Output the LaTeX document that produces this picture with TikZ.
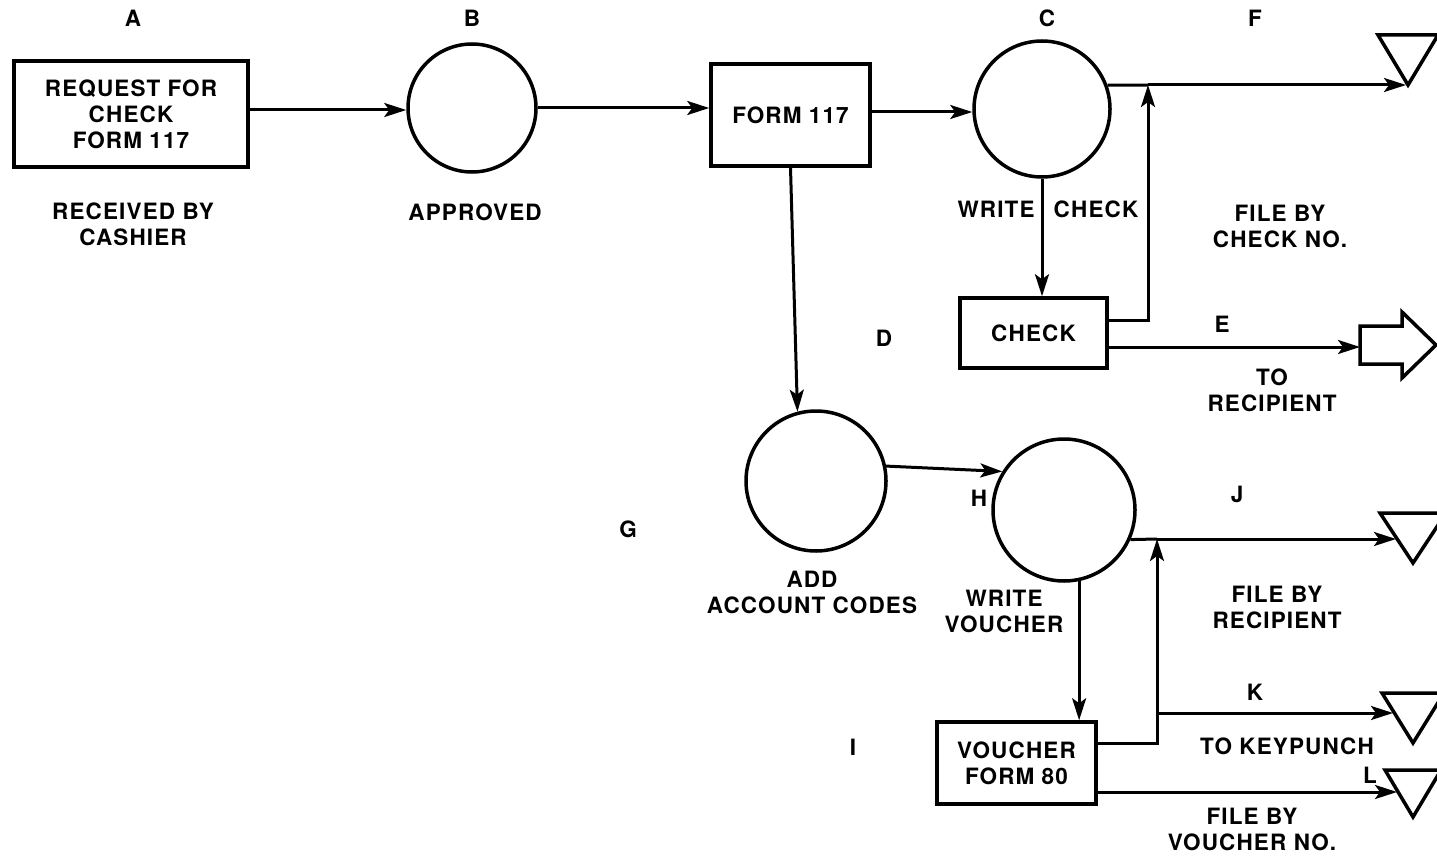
\documentclass[tikz,border=0pt]{standalone}
\usepackage{fontspec}
\setmainfont{TeX Gyre Heros}[LetterSpace=5]
\usetikzlibrary{arrows.meta}
\begin{document}
\begin{tikzpicture}[x=1pt,y=-1pt,
  every node/.style={font=\fontsize{22.5}{26}\selectfont\bfseries, inner sep=0pt, align=center},
  box/.style={draw, line width=3.5pt, rectangle},
  circ/.style={draw, line width=3.5pt, circle},
  conn/.style={line width=3pt, line join=miter},
  arr/.style={conn, -{Stealth[length=22pt,width=14pt,inset=5pt]}},
  term/.style={line width=3.5pt, line join=miter}
]
\clip (0,0) rectangle (1437,856);
\fill[white] (0,0) rectangle (1437,856);

% nodes
\node[box, minimum width=234pt, minimum height=106pt] (A) at (131,114) {REQUEST FOR\\CHECK\\FORM 117};
\node[circ, minimum size=128pt] (B) at (472,108) {};
\node[box, minimum width=159pt, minimum height=102pt] (F117) at (790.5,115) {FORM 117};
\node[circ, minimum size=136pt] (C) at (1042,109) {};
\node[box, minimum width=147pt, minimum height=70pt] (CHK) at (1033.5,333) {CHECK};
\node[circ, minimum size=140pt] (G) at (816,481) {};
\node[circ, minimum size=142pt] (H) at (1064,510) {};
\node[box, minimum width=159pt, minimum height=82pt] (V) at (1016.5,763) {VOUCHER\\FORM 80};

% terminals
\draw[term] (1378,35) -- (1438,35) -- (1408,85) -- cycle;
\coordinate (Ftip) at (1406,85);
\draw[term] (1360,326) -- (1402,326) -- (1402,312) -- (1436,345) -- (1402,378) -- (1402,364) -- (1360,364) -- cycle;
\coordinate (Etip) at (1360,347);
\draw[term] (1380,513) -- (1446,513) -- (1413,563) -- cycle;
\coordinate (Jtip) at (1396,539);
\draw[term] (1382,693) -- (1444,693) -- (1413,743) -- cycle;
\coordinate (Ktip) at (1393,713);
\draw[term] (1385,770) -- (1441,770) -- (1413,817) -- cycle;
\coordinate (Ltip) at (1397,792);

% junctions
\coordinate (jF) at (1148,85);
\coordinate (jJ) at (1157,539);
\coordinate (jK) at (1157,713);

% connectors
\draw[arr] ([yshift=4pt]A.east) -- ([yshift=4pt]A.east -| B.west);
\draw[arr] (B.east) -- (B.east -| F117.west);
\draw[arr] ([yshift=3pt]F117.east) -- ([yshift=3pt]F117.east -| C.west);
\draw[conn] (C.20.7) -- (jF);
\draw[arr] (jF) -- (Ftip);
\draw[arr] (C.south) -- (C.south |- CHK.north);
\draw[arr] ([yshift=13pt]CHK.east) -| (jF);
\draw[arr] ([yshift=-14pt]CHK.east) -- (Etip);
\draw[arr] (F117.south) -- (G.105);
\draw[arr] (G.12) -- (H.148);
\draw[conn] (H.-24) -- (jJ);
\draw[arr] (jJ) -- (Jtip);
\draw[arr] (H.-78) -- (H.-78 |- V.north);
\draw[arr] ([yshift=20pt]V.east) -| (jJ);
\draw[arr] (jK) -- (Ktip);
\draw[arr] ([yshift=-29pt]V.east) -- (Ltip);

% labels
\node (lA) at (133,18) {A};
\node (lB) at (472,18) {B};
\node (lC) at (1047,18) {C};
\node (lF) at (1255,18) {F};
\node (tA) at (133,224) {RECEIVED BY\\CASHIER};
\node (tB) at (475,212) {APPROVED};
\node (tW1) at (996,209) {WRITE};
\node (tW2) at (1096,209) {CHECK};
\node (tF) at (1280,226) {FILE BY\\CHECK NO.};
\node (lD) at (884,338) {D};
\node (lE) at (1222,324) {E};
\node (tE) at (1272,390) {TO\\RECIPIENT};
\node (lG) at (628,529) {G};
\node (lH) at (979,498) {H};
\node (lJ) at (1237,494) {J};
\node (tG) at (812,592) {ADD\\ACCOUNT CODES};
\node (tH) at (1004,611) {WRITE\\VOUCHER};
\node (tJ) at (1277,607) {FILE BY\\RECIPIENT};
\node (lK) at (1255,692) {K};
\node (lI) at (853,747) {I};
\node (tK) at (1287,746) {TO KEYPUNCH};
\node (lL) at (1370,775) {L};
\node (tL) at (1252,829) {FILE BY\\VOUCHER NO.};
\end{tikzpicture}
\end{document}
